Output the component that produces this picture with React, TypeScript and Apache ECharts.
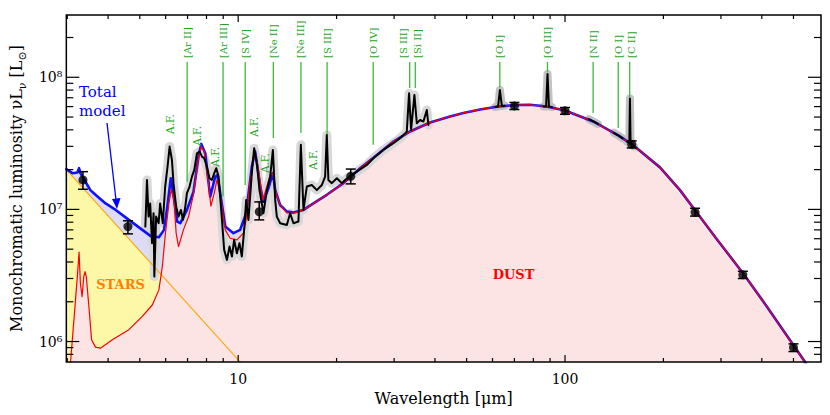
import React, { useEffect, useRef } from 'react';
import * as echarts from 'echarts';

const FONT = '"DejaVu Serif", serif';

// axis ranges
const xRange = [2.98, 607];
const yRange = [7.0e5, 2.96e8];

// tick values
const xTicks = [3, 4, 5, 6, 7, 8, 9, 10, 20, 30, 40, 50, 60, 70, 80, 90, 100, 200, 300, 400, 500];
const xMajor = [10, 100];
const yTicks = [8e5, 9e5, 1e6, 2e6, 3e6, 4e6, 5e6, 6e6, 7e6, 8e6, 9e6, 1e7, 2e7, 3e7, 4e7, 5e7, 6e7, 7e7, 8e7, 9e7, 1e8, 2e8];
const yMajor = [1e6, 1e7, 1e8];
const xTickLabels: Record<string, string> = { '1': '10', '2': '100' };
const yTickLabels: Record<string, string> = { '6': '10⁶', '7': '10⁷', '8': '10⁸' };

// stellar component (power law)
const starsModel = [[2.98, 2.0e7], [10.2, 6.9e5]];

// total model, mid-IR part
const totalMid = [
  [2.98, 2.02e7], [3.11, 1.88e7], [3.22, 1.9e7], [3.26, 2.05e7], [3.29, 1.88e7], [3.41, 1.62e7],
  [3.53, 1.4e7], [3.66, 1.29e7], [3.93, 1.11e7], [4.22, 9.91e6], [4.63, 8.33e6], [5.09, 7.0e6],
  [5.39, 6.3e6], [5.72, 6.16e6], [5.93, 7.0e6], [6.07, 1.05e7], [6.22, 1.72e7], [6.36, 1.22e7],
  [6.51, 8.09e6], [6.65, 7.86e6], [6.97, 9.91e6], [7.3, 1.36e7], [7.56, 2.51e7], [7.71, 3.13e7],
  [7.93, 2.66e7], [8.21, 1.25e7], [8.51, 1.77e7], [8.64, 1.82e7], [8.81, 1.33e7], [9.13, 7.41e6],
  [9.67, 6.61e6], [10.14, 7.0e6], [10.58, 9.36e6], [11.01, 2.11e7], [11.27, 2.74e7], [11.68, 1.49e7],
  [11.95, 1.15e7], [12.38, 1.45e7], [12.77, 1.88e7], [12.98, 1.4e7], [13.44, 1.08e7], [14.09, 9.63e6],
  [14.76, 9.46e6]
];

// dust model, mid-IR part
const dustMid = [
  [3.04, 5.5e5], [3.07, 7.0e5], [3.15, 1.55e6], [3.22, 3.1e6], [3.26, 4.75e6], [3.29, 2.77e6],
  [3.33, 2.19e6], [3.37, 3.1e6], [3.4, 3.38e6], [3.43, 3.1e6], [3.5, 1.74e6], [3.56, 1.03e6],
  [3.66, 9.07e5], [3.79, 8.91e5], [4.12, 1.03e6], [4.63, 1.23e6], [5.09, 1.55e6], [5.46, 1.89e6],
  [5.72, 2.46e6], [5.86, 3.69e6], [5.99, 6.61e6], [6.14, 1.11e7], [6.24, 1.42e7], [6.36, 1.18e7],
  [6.46, 6.61e6], [6.57, 5.23e6], [6.8, 7.0e6], [7.05, 8.82e6], [7.3, 1.3e7], [7.56, 2.45e7],
  [7.71, 2.99e7], [7.87, 2.74e7], [8.11, 1.58e7], [8.25, 1.06e7], [8.45, 1.33e7], [8.61, 1.67e7],
  [8.75, 1.49e7], [8.92, 1.05e7], [9.13, 7.0e6], [9.45, 6.05e6], [9.91, 5.88e6], [10.38, 6.61e6],
  [10.58, 8.33e6], [10.88, 1.67e7], [11.27, 2.74e7], [11.54, 1.99e7], [11.9, 1.18e7], [12.24, 1.49e7],
  [12.53, 1.82e7], [12.77, 1.88e7], [12.98, 1.4e7], [13.44, 1.08e7], [14.09, 9.41e6], [14.76, 9.33e6]
];

// shared far-IR part of dust and total models
const modelFarIR = [
  [15.84, 9.91e6], [16.99, 1.11e7], [18.67, 1.29e7], [20.99, 1.58e7], [23.62, 2.05e7], [26.56, 2.58e7],
  [29.85, 3.26e7], [33.57, 3.89e7], [38.65, 4.55e7], [44.49, 5.05e7], [48.87, 5.37e7], [54.96, 5.71e7],
  [61.81, 5.98e7], [69.48, 6.15e7], [78.16, 6.19e7], [87.9, 6.01e7], [100, 5.61e7], [122, 4.63e7],
  [145.5, 3.63e7], [160.3, 3.11e7], [195.2, 2.08e7], [224.8, 1.4e7], [251, 9.74e6], [291, 5.98e6],
  [352.7, 3.22e6], [413.8, 1.85e6], [502.5, 9.2e5], [541.9, 7.02e5], [581, 5.31e5]
];

// Spitzer IRS spectrum
const irsSpectrum = [
  [5.2, 7.41e6], [5.26, 1.67e7], [5.32, 8.82e6], [5.38, 1.11e7], [5.45, 5.55e6], [5.51, 9.36e6],
  [5.54, 3.1e6], [5.61, 8.82e6], [5.71, 7.86e6], [5.77, 1.11e7], [5.88, 7.86e6], [5.98, 1.49e7],
  [6.08, 2.11e7], [6.17, 2.99e7], [6.27, 2.37e7], [6.34, 1.58e7], [6.46, 1.05e7], [6.57, 8.82e6],
  [6.68, 9.91e6], [6.78, 8.33e6], [6.89, 1.05e7], [6.97, 1.33e7], [7.1, 1.49e7], [7.22, 1.77e7],
  [7.34, 1.99e7], [7.48, 2.66e7], [7.62, 2.74e7], [7.75, 2.51e7], [7.87, 2.44e7], [8.02, 2.11e7],
  [8.17, 1.72e7], [8.31, 1.67e7], [8.45, 1.88e7], [8.57, 2.05e7], [8.71, 1.77e7], [8.81, 1.25e7],
  [8.92, 8.33e6], [9.06, 4.94e6], [9.24, 4.15e6], [9.41, 5.23e6], [9.57, 4.4e6], [9.72, 5.88e6],
  [9.91, 4.66e6], [10.09, 5.55e6], [10.26, 4.4e6], [10.43, 7.0e6], [10.58, 1.18e7], [10.75, 8.33e6],
  [11.01, 1.88e7], [11.19, 2.9e7], [11.41, 2.24e7], [11.62, 1.4e7], [11.95, 9.36e6], [12.24, 1.4e7],
  [12.53, 1.77e7], [12.77, 2.82e7], [12.98, 1.18e7], [13.13, 8.82e6], [13.44, 7.86e6], [14.09, 7.63e6],
  [14.42, 9.36e6], [14.76, 7.86e6], [15.29, 8.09e6], [15.55, 3.08e7], [15.84, 9.91e6], [16.22, 1.49e7],
  [16.8, 1.53e7], [17.4, 1.4e7], [18.03, 1.53e7], [18.45, 1.77e7], [18.67, 3.66e7], [18.88, 1.67e7],
  [19.34, 1.58e7], [20.04, 1.72e7], [20.75, 1.58e7], [21.24, 1.67e7], [22.0, 1.79e7], [23.07, 1.93e7],
  [24.75, 2.17e7], [25.93, 2.44e7], [27.81, 2.82e7], [29.85, 3.17e7], [31.29, 3.46e7], [32.8, 3.88e7],
  [33.33, 7.57e7], [33.81, 3.99e7], [34.61, 7.35e7], [35.2, 4.49e7], [36.03, 4.75e7], [36.88, 4.62e7],
  [37.77, 5.66e7], [38.19, 4.36e7]
];

// Herschel PACS line scans
const pacsOI63 = [[61.2, 5.95e7], [62.4, 6.0e7], [63.2, 8.0e7], [64.1, 6.05e7], [65.4, 6.1e7]];
const pacsOIII88 = [[85.9, 6.02e7], [87.5, 6.0e7], [88.4, 1.06e8], [89.3, 6.0e7], [91.1, 5.95e7]];
const pacsNII122 = [[118.4, 4.82e7], [122, 4.63e7], [126, 4.43e7]];
const pacsOI145 = [[141, 3.8e7], [145.5, 3.63e7], [150, 3.45e7]];
const pacsCII158 = [[155, 3.25e7], [157.3, 3.18e7], [158.0, 6.9e7], [158.7, 3.12e7], [162.6, 3.0e7]];
const pacsSegments = [pacsOI63, pacsOIII88, pacsNII122, pacsOI145, pacsCII158];

// broadband photometry
const photLambda = [3.35, 4.6, 11.6, 22.1, 70, 100, 160, 250, 350, 500];
const photLum = [1.67e7, 7.41e6, 9.6e6, 1.78e7, 6.07e7, 5.58e7, 3.11e7, 9.52e6, 3.2e6, 9.0e5];
const photLow = [1.42e7, 6.53e6, 8.33e6, 1.56e7, 5.7e7, 5.25e7, 2.92e7, 8.9e6, 3.0e6, 8.4e5];
const photHigh = [1.93e7, 8.2e6, 1.14e7, 2.02e7, 6.45e7, 5.9e7, 3.3e7, 1.02e7, 3.4e6, 9.6e5];

// emission line identifications
const lineNames = ['[Ar II]', '[Ar III]', '[S IV]', '[Ne II]', '[Ne III]', '[S III]', '[O IV]', '[S III]', '[Si II]', '[O I]', '[O III]', '[N II]', '[O I]', '[C II]'];
const lineLambda = [6.98, 8.99, 10.51, 12.81, 15.56, 18.71, 25.89, 33.48, 34.82, 63.18, 88.36, 121.9, 145.5, 157.7];
const lineEnds = [1.62e7, 1.25e7, 1.53e7, 3.47e7, 3.79e7, 3.66e7, 3.08e7, 8.3e7, 8.3e7, 8.4e7, 1.1e8, 5.37e7, 4.14e7, 7.1e7];
const lineLabelShift = [0, 0, 0, 0, 0, 0, 0, -6, 2, 0, 0, 0, 0, 2];

// aromatic feature labels
const afLambda = [6.19, 7.5, 8.48, 11.15, 12.09, 16.9];
const afLum = [4.43e7, 3.6e7, 2.5e7, 4.21e7, 2.24e7, 2.37e7];

const isDecade = (v: number) => Math.abs(Math.log10(v) - Math.round(Math.log10(v))) < 1e-6;

function buildOption(): any {
  const totalModel = totalMid.concat(modelFarIR);
  const dustModel = dustMid.concat(modelFarIR);

  const area = (data: number[][], color: string) => ({
    type: 'line', data, symbol: 'none', showSymbol: false, silent: true, z: 1,
    lineStyle: { width: 0, opacity: 0 }, areaStyle: { color, opacity: 1, origin: 'start' }
  });
  const line = (data: number[][], color: string, width: number, z: number) => ({
    type: 'line', data, symbol: 'none', showSymbol: false, silent: true, z,
    lineStyle: { color, width, join: 'round', cap: 'round' }
  });

  const series: any[] = [
    area(totalModel, '#dcdcf6'),
    area(starsModel, '#fcf8a8'),
    area(dustModel, '#fde4e4'),
    line(irsSpectrum, '#d8d8d8', 9, 2),
    ...pacsSegments.map((s) => line(s, '#c2c2c2', 8, 2)),
    line(starsModel, '#ffa500', 1.1, 3),
    line(totalModel, '#1010ff', 2.6, 3),
    line(dustModel, '#ff0000', 1.2, 3),
    line(irsSpectrum, '#000000', 2, 4),
    ...pacsSegments.map((s) => line(s, '#000000', 2, 4)),
    {
      type: 'custom', silent: true, z: 4, clip: false,
      encode: { x: 0, y: 1 },
      data: lineLambda.map((l, i) => [l, lineEnds[i], i]),
      renderItem: (params: any, api: any) => {
        const cs = params.coordSys;
        const i = api.value(2);
        const p = api.coord([api.value(0), api.value(1)]);
        return {
          type: 'group',
          children: [
            { type: 'line', shape: { x1: p[0], y1: cs.y + 47, x2: p[0], y2: p[1] }, style: { stroke: '#3cba3c', lineWidth: 1.3 } },
            {
              type: 'text', x: p[0] + lineLabelShift[i], y: cs.y + 43, rotation: Math.PI / 2,
              style: { text: lineNames[i], fill: '#1fa51f', fontSize: 10, fontFamily: FONT, align: 'left', verticalAlign: 'middle' }
            }
          ]
        };
      }
    },
    {
      type: 'custom', silent: true, z: 4, clip: false,
      encode: { x: 0, y: 1 },
      data: afLambda.map((l, i) => [l, afLum[i]]),
      renderItem: (params: any, api: any) => {
        const p = api.coord([api.value(0), api.value(1)]);
        return {
          type: 'text', x: p[0], y: p[1], rotation: Math.PI / 2,
          style: { text: 'A.F.', fill: '#1fa51f', fontSize: 10.5, fontFamily: FONT, align: 'center', verticalAlign: 'middle' }
        };
      }
    },
    {
      type: 'custom', silent: true, z: 5,
      encode: { x: 0, y: [1, 2] },
      data: photLambda.map((l, i) => [l, photLow[i], photHigh[i]]),
      renderItem: (params: any, api: any) => {
        const l = api.value(0);
        const a = api.coord([l, api.value(1)]);
        const b = api.coord([l, api.value(2)]);
        const w = 5;
        const st = { stroke: '#000', lineWidth: 1.5 };
        return {
          type: 'group',
          children: [
            { type: 'line', shape: { x1: a[0], y1: a[1], x2: b[0], y2: b[1] }, style: st },
            { type: 'line', shape: { x1: a[0] - w, y1: a[1], x2: a[0] + w, y2: a[1] }, style: st },
            { type: 'line', shape: { x1: b[0] - w, y1: b[1], x2: b[0] + w, y2: b[1] }, style: st }
          ]
        };
      }
    },
    {
      type: 'scatter', silent: true, z: 5, symbol: 'circle', symbolSize: 9,
      itemStyle: { color: '#000' },
      data: photLambda.map((l, i) => [l, photLum[i]])
    },
    {
      type: 'custom', silent: true, z: 6, clip: false,
      encode: { x: 0, y: 1 },
      data: xTicks.map((v) => [v, 1e7]),
      renderItem: (params: any, api: any) => {
        const cs = params.coordSys;
        const v = api.value(0);
        const x = api.coord([v, 1e7])[0];
        const len = xMajor.indexOf(v) >= 0 ? 7 : 4;
        const st = { stroke: '#000', lineWidth: 1.2 };
        return {
          type: 'group',
          children: [
            { type: 'line', shape: { x1: x, y1: cs.y + cs.height, x2: x, y2: cs.y + cs.height - len }, style: st },
            { type: 'line', shape: { x1: x, y1: cs.y, x2: x, y2: cs.y + len }, style: st }
          ]
        };
      }
    },
    {
      type: 'custom', silent: true, z: 6, clip: false,
      encode: { x: 0, y: 1 },
      data: yTicks.map((v) => [10, v]),
      renderItem: (params: any, api: any) => {
        const cs = params.coordSys;
        const v = api.value(1);
        const y = api.coord([10, v])[1];
        const len = yMajor.indexOf(v) >= 0 ? 13 : 7;
        const st = { stroke: '#000', lineWidth: 1.2 };
        return {
          type: 'group',
          children: [
            { type: 'line', shape: { x1: cs.x, y1: y, x2: cs.x + len, y2: y }, style: st },
            { type: 'line', shape: { x1: cs.x + cs.width, y1: y, x2: cs.x + cs.width - len, y2: y }, style: st }
          ]
        };
      }
    },
    {
      type: 'custom', silent: true, z: 6, clip: false,
      encode: { x: 0, y: 1 },
      data: [[10, 1e7]],
      renderItem: (params: any) => {
        const cs = params.coordSys;
        return {
          type: 'rect', shape: { x: cs.x, y: cs.y, width: cs.width, height: cs.height },
          style: { fill: 'none', stroke: '#000', lineWidth: 1.5 }
        };
      }
    }
  ];

  return {
    animation: false,
    backgroundColor: '#ffffff',
    grid: { left: 66, right: 9, top: 15, bottom: 53, containLabel: false, show: false },
    xAxis: {
      type: 'log', logBase: 10, min: xRange[0], max: xRange[1],
      axisLine: { show: false }, axisTick: { show: false }, splitLine: { show: false }, minorTick: { show: false },
      axisLabel: {
        margin: 10, fontFamily: FONT, fontSize: 14, color: '#000',
        formatter: (v: number) => (isDecade(v) ? xTickLabels[String(Math.round(Math.log10(v)))] || '' : '')
      },
      name: 'Wavelength [μm]', nameLocation: 'middle', nameGap: 28,
      nameTextStyle: { fontFamily: FONT, fontSize: 16, color: '#000' }
    },
    yAxis: {
      type: 'log', logBase: 10, min: yRange[0], max: yRange[1],
      axisLine: { show: false }, axisTick: { show: false }, splitLine: { show: false }, minorTick: { show: false },
      axisLabel: {
        margin: 4, fontFamily: FONT, fontSize: 14, color: '#000',
        formatter: (v: number) => (isDecade(v) ? yTickLabels[String(Math.round(Math.log10(v)))] || '' : '')
      },
      name: '{n|Monochromatic luminosity νL}{s|ν}{n| [L}{s|⊙}{n|]}',
      nameLocation: 'middle', nameRotate: 90, nameGap: 33,
      nameTextStyle: {
        fontFamily: FONT, fontSize: 16, color: '#000',
        rich: {
          n: { fontFamily: FONT, fontSize: 16, color: '#000', lineHeight: 24, verticalAlign: 'middle' },
          s: { fontFamily: FONT, fontSize: 11, color: '#000', lineHeight: 14, verticalAlign: 'bottom' }
        }
      }
    },
    graphic: [
      {
        type: 'text', x: 79, y: 84, z: 100, silent: true,
        style: { text: 'Total', fill: '#0000ff', fontSize: 15, lineHeight: 15, fontFamily: FONT, align: 'left', verticalAlign: 'top' }
      },
      {
        type: 'text', x: 79, y: 103, z: 100, silent: true,
        style: { text: 'model', fill: '#0000ff', fontSize: 15, lineHeight: 15, fontFamily: FONT, align: 'left', verticalAlign: 'top' }
      },
      {
        type: 'line', z: 100, silent: true,
        shape: { x1: 107, y1: 123, x2: 116, y2: 200 },
        style: { stroke: '#0000ff', lineWidth: 1.3 }
      },
      {
        type: 'polygon', z: 100, silent: true,
        shape: { points: [[117, 209], [120.5, 198], [112, 199]] },
        style: { fill: '#0000ff' }
      },
      {
        type: 'text', x: 120.5, y: 284, z: 100, silent: true,
        style: { text: 'STARS', fill: '#ff7f00', fontSize: 13, fontWeight: 'bold', fontFamily: FONT, align: 'center', verticalAlign: 'middle' }
      },
      {
        type: 'text', x: 513.5, y: 274, z: 100, silent: true,
        style: { text: 'DUST', fill: '#ff0000', fontSize: 13, fontWeight: 'bold', fontFamily: FONT, align: 'center', verticalAlign: 'middle' }
      }
    ],
    series
  };
}

export default function App() {
  const ref = useRef<HTMLDivElement>(null);
  useEffect(() => {
    document.body.style.margin = '0';
    const chart = echarts.init(ref.current as HTMLDivElement, null, { renderer: 'svg' });
    chart.setOption(buildOption());
    return () => chart.dispose();
  }, []);
  return <div ref={ref} style={{ width: 830, height: 415 }} />;
}
